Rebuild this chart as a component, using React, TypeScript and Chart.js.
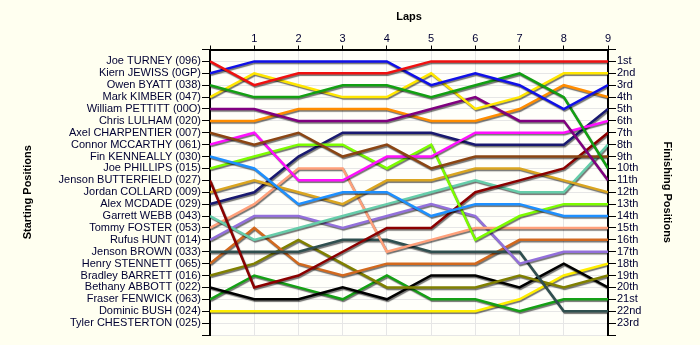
import { useEffect, useRef } from "react";
import { Chart, registerables } from "chart.js";

Chart.register(...registerables);

const laps = [0, 1, 2, 3, 4, 5, 6, 7, 8, 9];

const startingLabels = [
  "Joe TURNEY (096)",
  "Kiern JEWISS (0GP)",
  "Owen BYATT (038)",
  "Mark KIMBER (047)",
  "William PETTITT (00O)",
  "Chris LULHAM (020)",
  "Axel CHARPENTIER (007)",
  "Connor MCCARTHY (061)",
  "Fin KENNEALLY (030)",
  "Joe PHILLIPS (015)",
  "Jenson BUTTERFIELD (027)",
  "Jordan COLLARD (009)",
  "Alex MCDADE (029)",
  "Garrett WEBB (043)",
  "Tommy FOSTER (053)",
  "Rufus HUNT (014)",
  "Jenson BROWN (033)",
  "Henry STENNETT (065)",
  "Bradley BARRETT (016)",
  "Bethany ABBOTT (022)",
  "Fraser FENWICK (063)",
  "Dominic BUSH (024)",
  "Tyler CHESTERTON (025)",
];

const finishingLabels = [
  "1st", "2nd", "3rd", "4th", "5th", "6th", "7th", "8th", "9th", "10th",
  "11th", "12th", "13th", "14th", "15th", "16th", "17th", "18th", "19th",
  "20th", "21st", "22nd", "23rd",
];

// Position of each driver at each lap (lap 0 = starting position)
const turney = [1, 3, 2, 2, 2, 1, 1, 1, 1, 1];
const jewiss = [2, 1, 1, 1, 1, 3, 2, 3, 5, 3];
const byatt = [3, 4, 4, 3, 3, 4, 3, 2, 4, 10];
const kimber = [4, 2, 3, 4, 4, 2, 5, 4, 2, 2];
const pettitt = [5, 5, 6, 6, 6, 5, 4, 6, 6, 11];
const lulham = [6, 6, 5, 5, 5, 6, 6, 5, 3, 4];
const charpentier = [7, 8, 7, 9, 8, 10, 9, 9, 9, 9];
const mccarthy = [8, 7, 11, 11, 9, 9, 7, 7, 7, 6];
const kenneally = [9, 10, 13, 12, 12, 14, 13, 13, 14, 14];
const phillips = [10, 9, 8, 8, 10, 8, 16, 14, 13, 13];
const butterfield = [11, 20, 19, 17, 15, 15, 12, 11, 10, 7];
const collard = [12, 11, 12, 13, 11, 11, 10, 10, 11, 12];
const mcdade = [13, 12, 9, 7, 7, 7, 8, 8, 8, 5];
const webb = [14, 16, 15, 14, 13, 12, 11, 12, 12, 8];
const foster = [15, 13, 10, 10, 17, 16, 15, 15, 15, 15];
const hunt = [16, 14, 14, 15, 14, 13, 14, 18, 17, 17];
const brown = [17, 17, 17, 16, 16, 17, 17, 17, 22, 22];
const stennett = [18, 15, 18, 19, 18, 18, 18, 16, 16, 16];
const barrett = [19, 18, 16, 18, 20, 20, 20, 19, 20, 19];
const abbott = [20, 21, 21, 20, 21, 19, 19, 20, 18, 20];
const fenwick = [21, 19, 20, 21, 19, 21, 21, 22, 21, 21];
const bush = [22, 22, 22, 22, 22, 22, 22, 21, 19, 18];

const seriesColors = [
  "#f01010", "#1010e8", "#12a012", "#ffe600", "#800080", "#ff8c00",
  "#8b4513", "#ff10ff", "#1e90ff", "#7cfc00", "#8b0000", "#daa520",
  "#191970", "#66cdaa", "#ffa07a", "#9370db", "#2f4f4f", "#d2691e",
  "#808000", "#000000", "#15a015", "#ffee00",
];

const FONT = "'Liberation Sans', Arial, sans-serif";

export default function App() {
  const ref = useRef<HTMLCanvasElement>(null);

  useEffect(() => {
    document.body.style.margin = "0";
    document.body.style.background = "#fffff0";
    const series = [
      turney, jewiss, byatt, kimber, pettitt, lulham, charpentier, mccarthy,
      kenneally, phillips, butterfield, collard, mcdade, webb, foster, hunt,
      brown, stennett, barrett, abbott, fenwick, bush,
    ];
    const datasets = series.map((vals, i) => ({
      label: startingLabels[i],
      data: vals.map((v, j) => ({ x: laps[j], y: v })),
      borderColor: seriesColors[i],
      backgroundColor: seriesColors[i],
      borderWidth: 2.5,
      pointRadius: 0,
      pointHoverRadius: 0,
      tension: 0,
      fill: false,
    }));

    const bg = {
      id: "bg",
      beforeDraw(chart: any) {
        const { ctx, chartArea } = chart;
        ctx.save();
        ctx.fillStyle = "#fffff0";
        ctx.fillRect(0, 0, chart.width, chart.height);
        ctx.fillStyle = "#fffffa";
        ctx.fillRect(chartArea.left, chartArea.top, chartArea.right - chartArea.left, chartArea.bottom - chartArea.top);
        ctx.restore();
      },
    };
    const shadow = {
      id: "shadow",
      beforeDatasetDraw(chart: any) {
        const c = chart.ctx;
        c.save();
        c.shadowColor = "rgba(0,0,0,0.55)";
        c.shadowOffsetX = 1;
        c.shadowOffsetY = 1.5;
        c.shadowBlur = 1;
      },
      afterDatasetDraw(chart: any) {
        chart.ctx.restore();
      },
    };

    const posTicks = (s: any) => {
      s.ticks = Array.from({ length: startingLabels.length + 2 }, (_, v) => ({ value: v }));
    };
    const tickFont = { family: FONT, size: 11 };
    const titleFont = { family: FONT, size: 11, weight: "bold" as const };

    const chart = new Chart(ref.current as HTMLCanvasElement, {
      type: "line",
      data: { datasets },
      plugins: [bg, shadow],
      options: {
        animation: false,
        responsive: false,
        layout: { padding: { left: 0, right: 0, top: 0, bottom: 10 } },
        plugins: { legend: { display: false }, tooltip: { enabled: false } },
        events: [],
        scales: {
          x: {
            type: "linear",
            position: "top",
            min: laps[0],
            max: laps[laps.length - 1],
            afterBuildTicks: (s: any) => {
              s.ticks = laps.map((v) => ({ value: v }));
            },
            ticks: {
              callback: (v: any) => (v === 0 ? "" : String(v)),
              color: "#000033",
              font: tickFont,
              padding: 0,
              maxRotation: 0,
            },
            grid: { color: "#e6e6e6", tickColor: "#000", tickLength: 4, lineWidth: 1 },
            border: { color: "#000", width: 2 },
            title: { display: true, text: "Laps", color: "#000", font: titleFont, padding: { top: 10, bottom: 0 } },
            afterFit: (s: any) => {
              s.height = 49.5;
            },
          },
          y: {
            type: "linear",
            position: "left",
            reverse: true,
            min: 0,
            max: startingLabels.length + 1,
            afterBuildTicks: posTicks,
            ticks: {
              autoSkip: false,
              callback: (v: any) => startingLabels[v - 1] ?? "",
              color: "#000033",
              font: tickFont,
              padding: 1,
            },
            grid: { color: "#e6e6e6", tickColor: "#000", tickLength: 8, lineWidth: 1 },
            border: { color: "#000", width: 2 },
            title: { display: true, text: "Starting Positions", color: "#000", font: titleFont, padding: { top: 21, bottom: 0 } },
            afterFit: (s: any) => {
              s.width = 210;
            },
          },
          y2: {
            type: "linear",
            position: "right",
            reverse: true,
            min: 0,
            max: startingLabels.length + 1,
            afterBuildTicks: posTicks,
            ticks: {
              autoSkip: false,
              callback: (v: any) => finishingLabels[v - 1] ?? "",
              color: "#000033",
              font: tickFont,
              padding: 1,
            },
            grid: { drawOnChartArea: false, tickColor: "#000", tickLength: 8 },
            border: { color: "#000", width: 2 },
            title: { display: true, text: "Finishing Positions", color: "#000", font: titleFont, padding: { top: 26, bottom: 0 } },
            afterFit: (s: any) => {
              s.width = 92;
            },
          },
        },
      },
    });
    return () => chart.destroy();
  }, []);

  return (
    <div style={{ width: 700, height: 345, background: "#fffff0" }}>
      <canvas ref={ref} width={700} height={345} style={{ display: "block" }} />
    </div>
  );
}
